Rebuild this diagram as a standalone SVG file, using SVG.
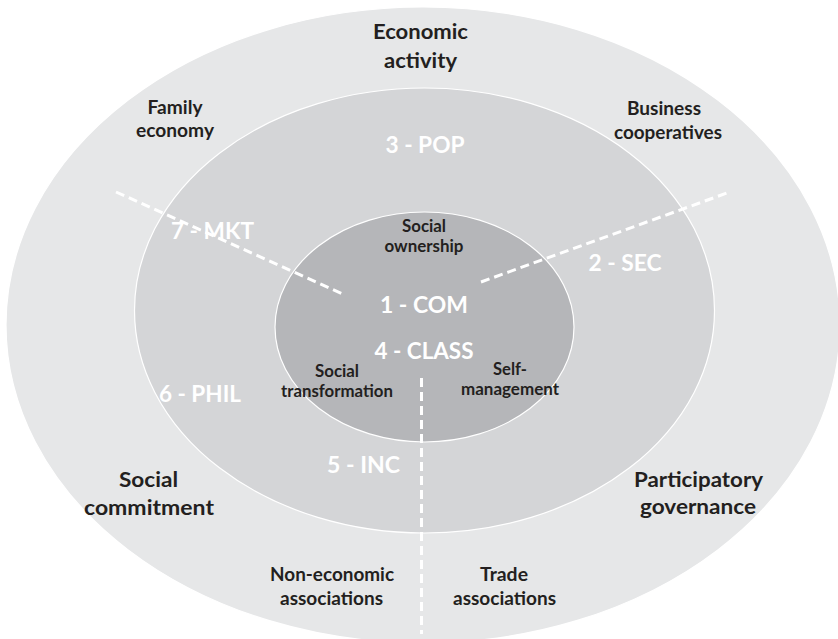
<svg xmlns="http://www.w3.org/2000/svg" width="838" height="639" viewBox="0 0 838 639">
<style>
.t{font-family:Lato,"Open Sans","Liberation Sans",sans-serif;font-weight:bold;text-anchor:middle}
.dk{fill:#231f20}
.w{fill:#ffffff}
.l{font-size:21px}
.m{font-size:19px}
.s{font-size:16.5px}
.b{font-size:22px}
.ring{stroke:#ffffff;stroke-width:1.2}
.dash{stroke:#ffffff;stroke-width:3;stroke-dasharray:9 5;fill:none}
</style>
<rect width="838" height="639" fill="#ffffff"/>
<g id="rings">
<ellipse id="outer" class="ring" cx="423" cy="325" rx="417" ry="318" fill="#e6e7e8"/>
<ellipse id="middle" class="ring" cx="424.5" cy="310.5" rx="290" ry="222.5" fill="#d4d5d7"/>
<ellipse id="inner" class="ring" cx="424.5" cy="327" rx="149.5" ry="115" fill="#b5b6b9"/>
</g>
<g id="connectors">
<line class="dash" x1="116" y1="192" x2="345" y2="295"/>
<line class="dash" x1="481" y1="282" x2="727" y2="193"/>
<line class="dash" x1="421.5" y1="378" x2="421.5" y2="634"/>
</g>
<g id="economic-activity" class="t dk l">
<text x="420.5" y="38.5" textLength="95" lengthAdjust="spacingAndGlyphs">Economic</text>
<text x="420.5" y="67.5" textLength="73" lengthAdjust="spacingAndGlyphs">activity</text>
</g>
<g id="family-economy" class="t dk m">
<text x="175" y="113.5" textLength="55" lengthAdjust="spacingAndGlyphs">Family</text>
<text x="175" y="137" textLength="78" lengthAdjust="spacingAndGlyphs">economy</text>
</g>
<g id="business-cooperatives" class="t dk m">
<text x="664" y="115" textLength="74" lengthAdjust="spacingAndGlyphs">Business</text>
<text x="668" y="138.5" textLength="108" lengthAdjust="spacingAndGlyphs">cooperatives</text>
</g>
<g id="pop" class="t w b"><text x="425" y="153" textLength="79" lengthAdjust="spacingAndGlyphs">3 - POP</text></g>
<g id="social-ownership" class="t dk s">
<text x="424" y="232" textLength="44" lengthAdjust="spacingAndGlyphs">Social</text>
<text x="424" y="252" textLength="79" lengthAdjust="spacingAndGlyphs">ownership</text>
</g>
<g id="mkt" class="t w b"><text x="212.5" y="239" textLength="83" lengthAdjust="spacingAndGlyphs">7 - MKT</text></g>
<g id="sec" class="t w b"><text x="625" y="271" textLength="73" lengthAdjust="spacingAndGlyphs">2 - SEC</text></g>
<g id="com" class="t w b"><text x="424" y="313" textLength="88" lengthAdjust="spacingAndGlyphs">1 - COM</text></g>
<g id="class" class="t w b"><text x="424" y="359" textLength="99" lengthAdjust="spacingAndGlyphs">4 - CLASS</text></g>
<g id="social-transformation" class="t dk s">
<text x="337" y="377" textLength="44" lengthAdjust="spacingAndGlyphs">Social</text>
<text x="337" y="397" textLength="112" lengthAdjust="spacingAndGlyphs">transformation</text>
</g>
<g id="self-management" class="t dk s">
<text x="510" y="375" textLength="34" lengthAdjust="spacingAndGlyphs">Self-</text>
<text x="510" y="395" textLength="98" lengthAdjust="spacingAndGlyphs">management</text>
</g>
<g id="phil" class="t w b"><text x="200" y="402" textLength="82" lengthAdjust="spacingAndGlyphs">6 - PHIL</text></g>
<g id="inc" class="t w b"><text x="363.5" y="473" textLength="73" lengthAdjust="spacingAndGlyphs">5 - INC</text></g>
<g id="social-commitment" class="t dk l">
<text x="148.5" y="486.5" textLength="59" lengthAdjust="spacingAndGlyphs">Social</text>
<text x="149" y="514.5" textLength="130" lengthAdjust="spacingAndGlyphs">commitment</text>
</g>
<g id="participatory-governance" class="t dk l">
<text x="698.5" y="486.5" textLength="129" lengthAdjust="spacingAndGlyphs">Participatory</text>
<text x="698" y="513.5" textLength="116" lengthAdjust="spacingAndGlyphs">governance</text>
</g>
<g id="non-economic-associations" class="t dk m">
<text x="332" y="581" textLength="124" lengthAdjust="spacingAndGlyphs">Non-economic</text>
<text x="331.5" y="604.5" textLength="103" lengthAdjust="spacingAndGlyphs">associations</text>
</g>
<g id="trade-associations" class="t dk m">
<text x="504" y="581" textLength="48" lengthAdjust="spacingAndGlyphs">Trade</text>
<text x="504.5" y="604.5" textLength="103" lengthAdjust="spacingAndGlyphs">associations</text>
</g>
</svg>
